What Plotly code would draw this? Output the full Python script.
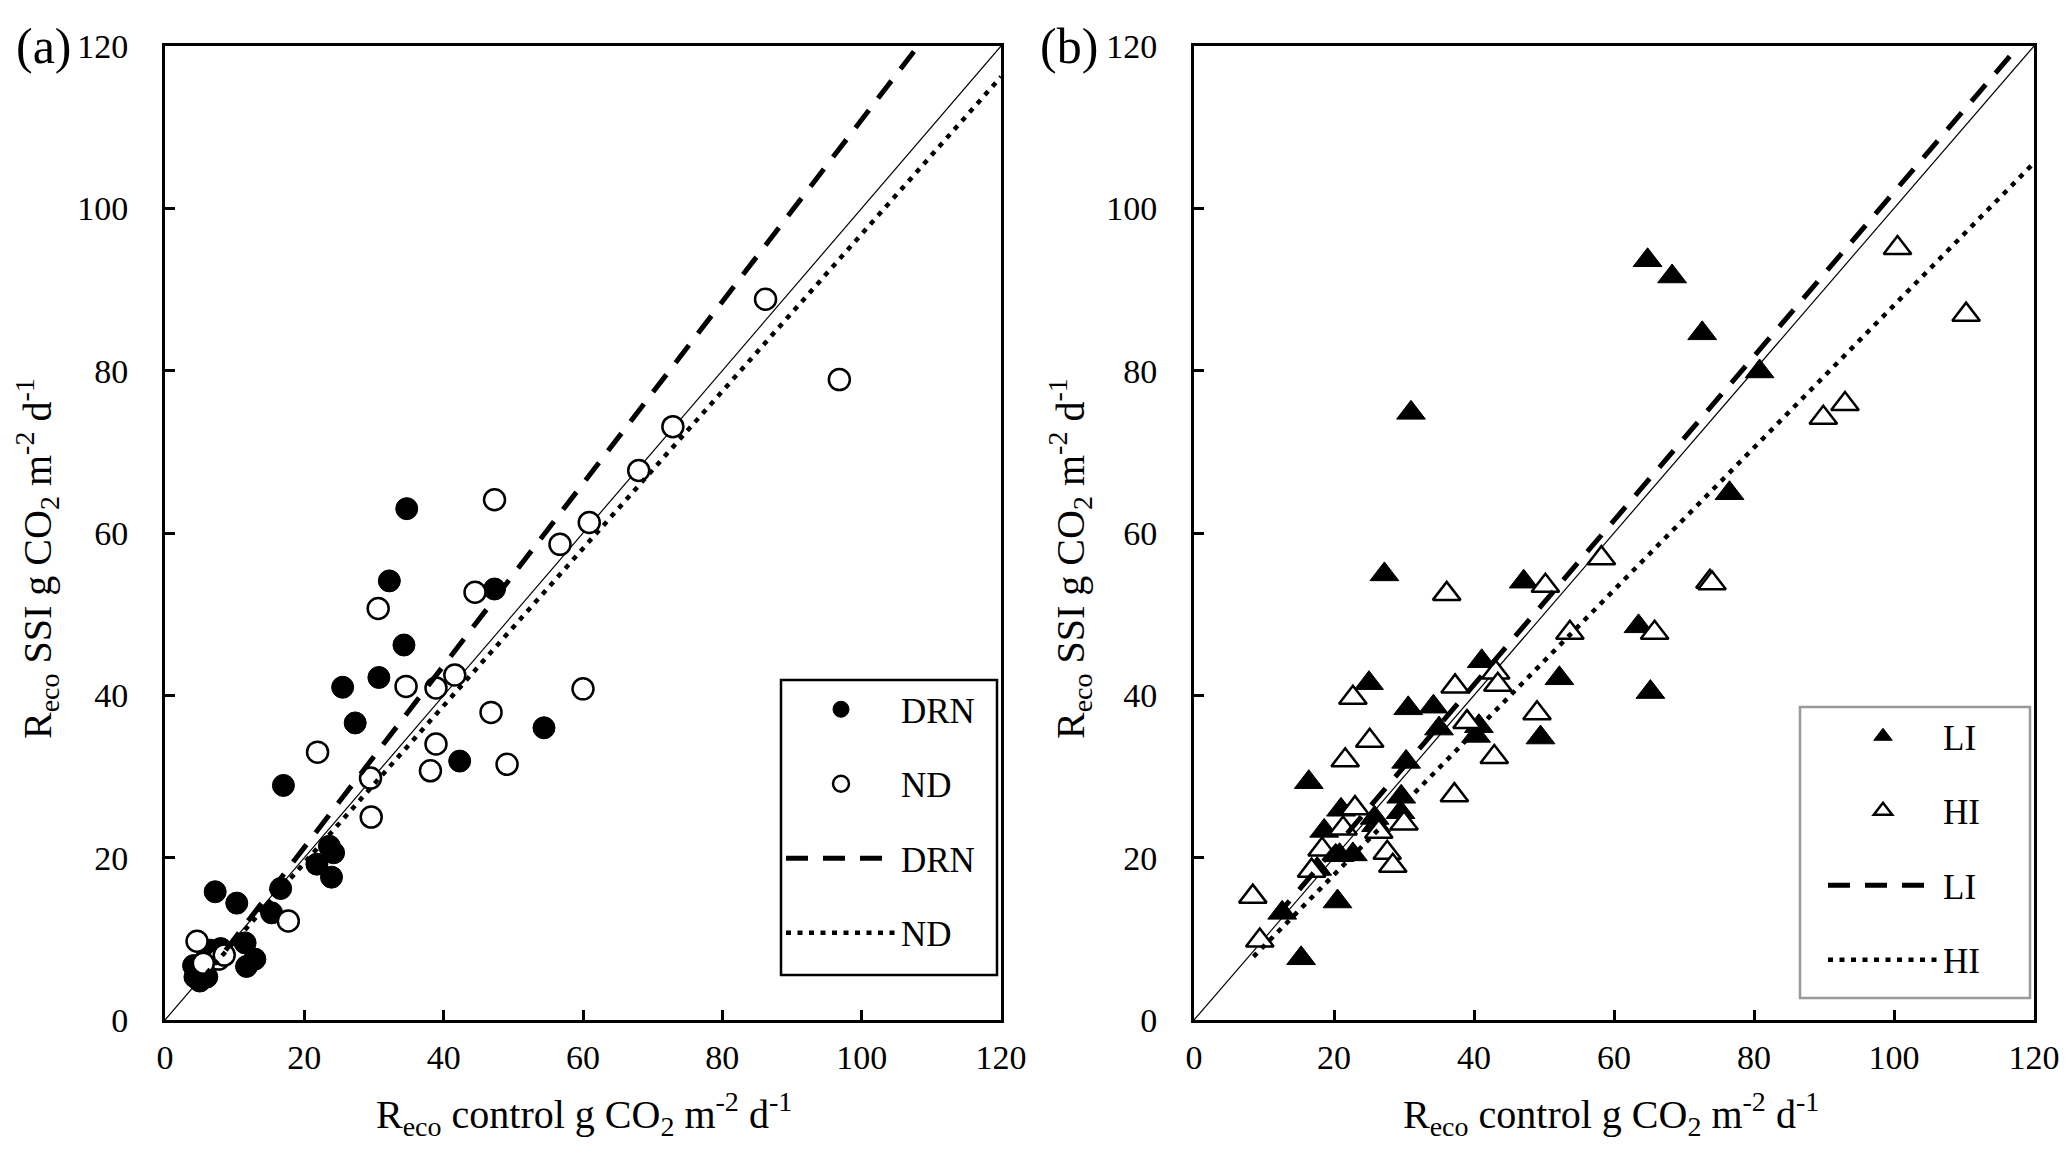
import plotly.graph_objects as go

# ---------------- data ----------------
drn_x = [34.7, 32.2, 47.3, 34.3, 30.7, 25.5, 27.3, 54.4, 42.3, 17.0, 23.6, 21.8, 24.2, 23.9,
         16.6, 7.2, 10.3, 15.3, 11.5, 12.9, 11.7, 4.1, 5.0, 4.3, 6.0, 5.5, 6.5, 8.0]
drn_y = [63.0, 54.1, 53.1, 46.2, 42.2, 41.0, 36.6, 36.0, 31.9, 28.9, 21.4, 19.2, 20.6, 17.6,
         16.2, 15.8, 14.4, 13.2, 9.5, 7.5, 6.6, 6.7, 4.8, 5.3, 5.3, 7.1, 8.6, 8.8]

nd_x = [86.2, 96.8, 72.9, 68.0, 60.9, 56.7, 47.3, 44.5, 30.6, 41.6, 38.9, 34.6, 60.0, 46.8,
        38.9, 21.9, 38.1, 49.1, 29.5, 29.6, 17.7, 4.6, 7.7, 8.5, 5.5]
nd_y = [88.8, 78.9, 73.1, 67.7, 61.3, 58.6, 64.1, 52.7, 50.7, 42.5, 40.9, 41.1, 40.8, 37.9,
        34.0, 33.0, 30.7, 31.5, 29.8, 25.0, 12.2, 9.7, 7.5, 8.0, 7.0]

li_x = [64.8, 68.3, 72.6, 80.8, 31.0, 76.5, 27.2, 47.1, 63.5, 65.2, 52.2, 41.1, 25.0, 30.6,
        34.2, 35.0, 40.3, 40.7, 49.5, 30.3, 16.4, 29.6, 29.5, 21.0, 25.8, 26.0, 18.6, 20.8,
        22.7, 17.6, 20.5, 12.6, 15.3]
li_y = [93.6, 91.6, 84.6, 79.9, 74.8, 64.9, 54.9, 54.0, 48.5, 40.4, 42.1, 44.2, 41.5, 38.4,
        38.6, 35.9, 35.0, 36.2, 34.8, 31.8, 29.3, 27.5, 25.6, 25.9, 24.9, 24.0, 23.3, 20.3,
        20.4, 18.6, 14.6, 13.2, 7.6]

hi_x = [100.5, 110.3, 93.0, 89.9, 58.2, 50.2, 36.1, 73.7, 74.0, 53.7, 65.8, 37.3, 43.1, 43.4,
        22.7, 39.0, 49.0, 25.1, 42.9, 21.6, 37.2, 23.0, 21.3, 26.4, 30.0, 27.6, 28.4, 18.3,
        16.8, 8.4, 9.4]
hi_y = [95.1, 86.9, 75.9, 74.2, 56.9, 53.5, 52.5, 54.0, 53.8, 47.7, 47.7, 41.1, 42.8, 41.3,
        39.7, 36.7, 37.8, 34.4, 32.4, 32.0, 27.7, 26.1, 23.6, 23.2, 24.2, 20.6, 19.0, 21.0,
        18.4, 15.2, 9.8]

# fitted lines (end points)
drn_fit_x = [8.7, 108.1]
drn_fit_y = [8.6, 120.0]
nd_fit_x = [6.0, 120.0]
nd_fit_y = [5.8, 116.2]
li_fit_x = [11.6, 117.8]
li_fit_y = [12.6, 120.0]
hi_fit_x = [8.5, 120.0]
hi_fit_y = [7.8, 105.6]
one_x = [0, 120]
one_y = [0, 120]

tick_vals = [0, 20, 40, 60, 80, 100, 120]
tick_text = ["0", "20", "40", "60", "80", "100", "120"]

x_title = "R<sub>eco</sub> control g CO<sub>2</sub> m<sup>-2</sup> d<sup>-1</sup>"
y_title = "R<sub>eco</sub> SSI g CO<sub>2</sub> m<sup>-2</sup> d<sup>-1</sup>"

FONT = "Liberation Serif"
W, H = 2067, 1153

fig = go.Figure()

DASH = dict(color="black", width=5, dash="22px,15px")
DOT = dict(color="black", width=4.5, dash="5px,6.5px")

# ---------------- panel (a) ----------------
fig.add_trace(go.Scatter(x=one_x, y=one_y, mode="lines", line=dict(color="black", width=1.2),
                         showlegend=False, xaxis="x", yaxis="y", hoverinfo="skip"))
fig.add_trace(go.Scatter(x=drn_x, y=drn_y, mode="markers", name="DRN", legend="legend",
                         legendgroup="a1",
                         marker=dict(symbol="circle", size=22, color="black",
                                     line=dict(color="black", width=1)),
                         xaxis="x", yaxis="y"))
fig.add_trace(go.Scatter(x=nd_x, y=nd_y, mode="markers", name="ND", legend="legend",
                         legendgroup="a2",
                         marker=dict(symbol="circle", size=21, color="white",
                                     line=dict(color="black", width=2.5)),
                         xaxis="x", yaxis="y"))
fig.add_trace(go.Scatter(x=drn_fit_x, y=drn_fit_y, mode="lines", name="DRN", legend="legend",
                         legendgroup="a3", line=DASH, xaxis="x", yaxis="y"))
fig.add_trace(go.Scatter(x=nd_fit_x, y=nd_fit_y, mode="lines", name="ND", legend="legend",
                         legendgroup="a4", line=DOT, xaxis="x", yaxis="y"))

# ---------------- panel (b) ----------------
fig.add_trace(go.Scatter(x=one_x, y=one_y, mode="lines", line=dict(color="black", width=1.2),
                         showlegend=False, xaxis="x2", yaxis="y2", hoverinfo="skip"))
fig.add_trace(go.Scatter(x=li_x, y=li_y, mode="markers", name="LI", legend="legend2",
                         legendgroup="b1",
                         marker=dict(symbol="triangle-up", size=25, color="black",
                                     line=dict(color="black", width=1)),
                         xaxis="x2", yaxis="y2"))
fig.add_trace(go.Scatter(x=hi_x, y=hi_y, mode="markers", name="HI", legend="legend2",
                         legendgroup="b2",
                         marker=dict(symbol="triangle-up", size=24, color="white",
                                     line=dict(color="black", width=2.5)),
                         xaxis="x2", yaxis="y2"))
fig.add_trace(go.Scatter(x=li_fit_x, y=li_fit_y, mode="lines", name="LI", legend="legend2",
                         legendgroup="b3", line=DASH, xaxis="x2", yaxis="y2"))
fig.add_trace(go.Scatter(x=hi_fit_x, y=hi_fit_y, mode="lines", name="HI", legend="legend2",
                         legendgroup="b4", line=DOT, xaxis="x2", yaxis="y2"))

ydom = [1 - 1012 / H, 1 - 38 / H]


def xax(domain, anchor):
    return dict(domain=domain, anchor=anchor, range=[0, 120], tickvals=tick_vals,
                ticktext=tick_text, ticks="inside", ticklen=10, tickwidth=2.5,
                tickcolor="black", showline=True, linewidth=3, linecolor="black",
                mirror=True, showgrid=False, zeroline=False, ticklabelstandoff=5,
                automargin=False,
                tickfont=dict(family=FONT, size=34, color="black"))


def yax(anchor):
    return dict(domain=ydom, anchor=anchor, range=[0, 120], tickvals=tick_vals,
                ticktext=tick_text, ticks="inside", ticklen=10, tickwidth=2.5,
                tickcolor="black", showline=True, linewidth=3, linecolor="black",
                mirror=True, showgrid=False, zeroline=False, ticklabelstandoff=27,
                automargin=False,
                tickfont=dict(family=FONT, size=34, color="black"))


legend_common = dict(xanchor="left", yanchor="top", bgcolor="rgba(0,0,0,0)", borderwidth=0,
                     font=dict(family=FONT, size=35, color="black"),
                     tracegroupgap=26, itemwidth=110, itemsizing="trace")

# legend frames
box_a = dict(type="rect", xref="paper", yref="paper", layer="above",
             x0=773 / W, x1=989 / W, y0=1 - 967 / H, y1=1 - 672 / H,
             line=dict(color="black", width=2.5), fillcolor="white")
box_b = dict(type="rect", xref="paper", yref="paper", layer="above",
             x0=1792 / W, x1=2022 / W, y0=1 - 990 / H, y1=1 - 699 / H,
             line=dict(color="#999999", width=2.5), fillcolor="white")


def label(text, x, y, size=50, angle=0, xanchor="left"):
    return dict(text=text, x=x / W, y=1 - y / H, xref="paper", yref="paper",
                xanchor=xanchor, yanchor="middle", showarrow=False, textangle=angle,
                font=dict(family=FONT, size=size, color="black"))


fig.update_layout(
    width=W, height=H, autosize=False,
    margin=dict(l=0, r=0, t=0, b=0, autoexpand=False),
    paper_bgcolor="white", plot_bgcolor="white",
    font=dict(family=FONT, color="black"),
    xaxis=xax([157 / W, 993 / W], "y"),
    yaxis=yax("x"),
    xaxis2=xax([1186 / W, 2026 / W], "y2"),
    yaxis2=yax("x2"),
    legend=dict(x=773 / W, y=1 - 672 / H, **legend_common),
    legend2=dict(x=1815 / W, y=1 - 699 / H, **legend_common),
    shapes=[box_a, box_b],
    annotations=[
        label("(a)", 6, 38),
        label("(b)", 1030, 38),
        label(x_title, 576, 1106, size=40, xanchor="center"),
        label(x_title, 1603, 1106, size=40, xanchor="center"),
        label(y_title, 29, 551, size=40, angle=-90, xanchor="center"),
        label(y_title, 1062, 551, size=40, angle=-90, xanchor="center"),
    ],
)

fig.write_html("out.html")
